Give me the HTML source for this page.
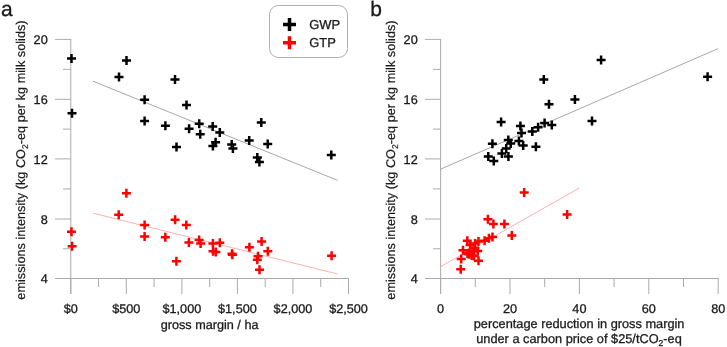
<!DOCTYPE html>
<html><head><meta charset="utf-8"><style>
html,body{margin:0;padding:0;background:#fff;}
svg{display:block;font-family:"Liberation Sans",sans-serif;will-change:transform;text-rendering:geometricPrecision;}
</style></head><body>
<svg width="727" height="347" viewBox="0 0 727 347">
<rect width="727" height="347" fill="#fff"/>
<g font-size="12.67" fill="#1a1a1a" stroke="#1a1a1a" stroke-width="0.3">
<path d="M70.8 38.85V294M55 278.5H349.0M55 39.40H70.8M55 99.30H70.8M55 158.90H70.8M55 219.00H70.8M63 69.35H70.8M63 129.10H70.8M63 188.95H70.8M63 248.75H70.8M70.80 278.5V294M98.57 278.5V287M126.34 278.5V294M154.11 278.5V287M181.88 278.5V294M209.65 278.5V287M237.42 278.5V294M265.19 278.5V287M292.96 278.5V294M320.73 278.5V287M348.50 278.5V294" stroke="#aaaaaa" stroke-width="1.0" fill="none"/>
<text x="47.7" y="44.20" text-anchor="end">20</text>
<text x="47.7" y="104.10" text-anchor="end">16</text>
<text x="47.7" y="163.70" text-anchor="end">12</text>
<text x="47.7" y="223.80" text-anchor="end">8</text>
<text x="47.7" y="283.30" text-anchor="end">4</text>
<text x="70.80" y="313.1" text-anchor="middle">$0</text>
<text x="126.34" y="313.1" text-anchor="middle">$500</text>
<text x="181.88" y="313.1" text-anchor="middle">$1,000</text>
<text x="237.42" y="313.1" text-anchor="middle">$1,500</text>
<text x="292.96" y="313.1" text-anchor="middle">$2,000</text>
<text x="348.50" y="313.1" text-anchor="middle">$2,500</text>
<text transform="translate(24.7,160.05) rotate(-90)" text-anchor="middle" font-size="12.74" stroke-width="0.18">emissions intensity (kg CO<tspan font-size="8.5" dy="3">2</tspan><tspan dy="-3">-eq per kg milk solids)</tspan></text>
<path d="M440.6 38.85V294M425 278.5H718.7M425 39.40H440.6M425 99.30H440.6M425 158.90H440.6M425 219.00H440.6M433 69.35H440.6M433 129.10H440.6M433 188.95H440.6M433 248.75H440.6M440.60 278.5V294M475.30 278.5V287M510.00 278.5V294M544.70 278.5V287M579.40 278.5V294M614.10 278.5V287M648.80 278.5V294M683.50 278.5V287M718.20 278.5V294" stroke="#aaaaaa" stroke-width="1.0" fill="none"/>
<text x="417.7" y="44.20" text-anchor="end">20</text>
<text x="417.7" y="104.10" text-anchor="end">16</text>
<text x="417.7" y="163.70" text-anchor="end">12</text>
<text x="417.7" y="223.80" text-anchor="end">8</text>
<text x="417.7" y="283.30" text-anchor="end">4</text>
<text x="440.60" y="313.1" text-anchor="middle">0</text>
<text x="510.00" y="313.1" text-anchor="middle">20</text>
<text x="579.40" y="313.1" text-anchor="middle">40</text>
<text x="648.80" y="313.1" text-anchor="middle">60</text>
<text x="718.20" y="313.1" text-anchor="middle">80</text>
<text transform="translate(394.7,160.05) rotate(-90)" text-anchor="middle" font-size="12.74" stroke-width="0.18">emissions intensity (kg CO<tspan font-size="8.5" dy="3">2</tspan><tspan dy="-3">-eq per kg milk solids)</tspan></text>
<text x="209.6" y="328.9" text-anchor="middle">gross margin / ha</text>
<text x="579.1" y="328.1" text-anchor="middle" font-size="12.78">percentage reduction in gross margin</text>
<text x="579.0" y="342.5" text-anchor="middle" font-size="12.78">under a carbon price of $25/tCO<tspan font-size="8.5" dy="3">2</tspan><tspan dy="-3">-eq</tspan></text>
<text x="309.2" y="29.3" font-size="12.95">GWP</text>
<text x="309.2" y="47.4" font-size="12.95">GTP</text>
</g>
<text x="1" y="16.2" font-size="21" fill="#1a1a1a" stroke="#1a1a1a" stroke-width="0.3">a</text>
<text x="370.3" y="16.2" font-size="21" fill="#1a1a1a" stroke="#1a1a1a" stroke-width="0.3">b</text>
<rect x="269.5" y="5.5" width="78" height="52" rx="9" fill="none" stroke="#b0b0b0" stroke-width="1"/>
<path d="M283 24.5h13M289.5 18v13" stroke="#000" stroke-width="3.5"/>
<path d="M283 42.7h13M289.5 36.2v13" stroke="#f00" stroke-width="3.5"/>
<line x1="93" y1="81.2" x2="337.7" y2="180.4" stroke="#909090" stroke-width="0.8"/>
<line x1="93.1" y1="213.2" x2="337.6" y2="274" stroke="#ff9494" stroke-width="0.75"/>
<line x1="440.5" y1="169.2" x2="717.9" y2="48.7" stroke="#909090" stroke-width="0.8"/>
<line x1="440.5" y1="266.7" x2="579.2" y2="188.1" stroke="#ff9494" stroke-width="0.75"/>
<path d="M67.00 58.50h9.0M71.50 54.00v9.0M67.50 113.30h9.0M72.00 108.80v9.0M114.50 77.00h9.0M119.00 72.50v9.0M122.00 60.50h9.0M126.50 56.00v9.0M140.10 99.70h9.0M144.60 95.20v9.0M140.10 121.10h9.0M144.60 116.60v9.0M160.90 125.70h9.0M165.40 121.20v9.0M170.50 79.50h9.0M175.00 75.00v9.0M172.00 146.90h9.0M176.50 142.40v9.0M182.00 105.00h9.0M186.50 100.50v9.0M184.60 128.70h9.0M189.10 124.20v9.0M194.70 123.70h9.0M199.20 119.20v9.0M195.70 134.20h9.0M200.20 129.70v9.0M208.20 126.50h9.0M212.70 122.00v9.0M215.30 132.50h9.0M219.80 128.00v9.0M211.10 142.30h9.0M215.60 137.80v9.0M208.40 145.90h9.0M212.90 141.40v9.0M227.20 144.40h9.0M231.70 139.90v9.0M228.40 148.40h9.0M232.90 143.90v9.0M244.70 140.60h9.0M249.20 136.10v9.0M256.80 122.60h9.0M261.30 118.10v9.0M263.20 144.10h9.0M267.70 139.60v9.0M252.80 157.60h9.0M257.30 153.10v9.0M254.90 162.00h9.0M259.40 157.50v9.0M326.80 155.00h9.0M331.30 150.50v9.0" stroke="#000" stroke-width="2.5" fill="none"/>
<path d="M67.00 231.85h9.0M71.50 227.35v9.0M67.60 246.15h9.0M72.10 241.65v9.0M121.90 193.35h9.0M126.40 188.85v9.0M114.20 214.85h9.0M118.70 210.35v9.0M140.10 224.95h9.0M144.60 220.45v9.0M140.10 236.55h9.0M144.60 232.05v9.0M160.80 237.35h9.0M165.30 232.85v9.0M170.60 219.75h9.0M175.10 215.25v9.0M181.80 224.95h9.0M186.30 220.45v9.0M184.40 242.55h9.0M188.90 238.05v9.0M171.90 261.15h9.0M176.40 256.65v9.0M194.60 239.95h9.0M199.10 235.45v9.0M196.10 243.45h9.0M200.60 238.95v9.0M208.40 243.55h9.0M212.90 239.05v9.0M215.30 242.75h9.0M219.80 238.25v9.0M208.50 251.15h9.0M213.00 246.65v9.0M211.30 251.95h9.0M215.80 247.45v9.0M227.50 253.85h9.0M232.00 249.35v9.0M227.90 254.85h9.0M232.40 250.35v9.0M244.90 247.25h9.0M249.40 242.75v9.0M257.10 241.45h9.0M261.60 236.95v9.0M263.30 251.25h9.0M267.80 246.75v9.0M253.50 256.25h9.0M258.00 251.75v9.0M252.80 259.85h9.0M257.30 255.35v9.0M255.00 269.65h9.0M259.50 265.15v9.0M327.10 255.85h9.0M331.60 251.35v9.0" stroke="#f00" stroke-width="2.5" fill="none"/>
<path d="M596.60 59.90h9.0M601.10 55.40v9.0M703.10 76.70h9.0M707.60 72.20v9.0M539.30 79.40h9.0M543.80 74.90v9.0M570.40 99.60h9.0M574.90 95.10v9.0M544.50 104.20h9.0M549.00 99.70v9.0M587.50 121.10h9.0M592.00 116.60v9.0M540.10 123.00h9.0M544.60 118.50v9.0M547.30 125.10h9.0M551.80 120.60v9.0M496.60 122.10h9.0M501.10 117.60v9.0M515.90 125.90h9.0M520.40 121.40v9.0M533.60 127.30h9.0M538.10 122.80v9.0M527.80 131.60h9.0M532.30 127.10v9.0M517.00 133.10h9.0M521.50 128.60v9.0M503.80 139.90h9.0M508.30 135.40v9.0M514.40 141.10h9.0M518.90 136.60v9.0M487.90 143.70h9.0M492.40 139.20v9.0M506.20 143.50h9.0M510.70 139.00v9.0M518.70 145.40h9.0M523.20 140.90v9.0M531.40 146.70h9.0M535.90 142.20v9.0M501.70 148.50h9.0M506.20 144.00v9.0M497.40 153.60h9.0M501.90 149.10v9.0M483.80 156.60h9.0M488.30 152.10v9.0M503.90 156.50h9.0M508.40 152.00v9.0M489.30 161.00h9.0M493.80 156.50v9.0" stroke="#000" stroke-width="2.5" fill="none"/>
<path d="M519.70 192.60h9.0M524.20 188.10v9.0M562.60 214.40h9.0M567.10 209.90v9.0M483.40 219.20h9.0M487.90 214.70v9.0M488.90 224.10h9.0M493.40 219.60v9.0M499.90 224.00h9.0M504.40 219.50v9.0M507.30 235.50h9.0M511.80 231.00v9.0M488.00 237.00h9.0M492.50 232.50v9.0M484.40 238.20h9.0M488.90 233.70v9.0M480.10 240.80h9.0M484.60 236.30v9.0M474.00 241.60h9.0M478.50 237.10v9.0M470.60 243.40h9.0M475.10 238.90v9.0M462.80 240.80h9.0M467.30 236.30v9.0M458.50 250.30h9.0M463.00 245.80v9.0M464.50 252.90h9.0M469.00 248.40v9.0M467.10 255.50h9.0M471.60 251.00v9.0M473.20 251.10h9.0M477.70 246.60v9.0M456.70 258.90h9.0M461.20 254.40v9.0M456.20 269.30h9.0M460.70 264.80v9.0M474.00 260.70h9.0M478.50 256.20v9.0M465.60 245.10h9.0M470.10 240.60v9.0M470.40 248.20h9.0M474.90 243.70v9.0M464.30 254.20h9.0M468.80 249.70v9.0M463.00 253.50h9.0M467.50 249.00v9.0M468.50 251.00h9.0M473.00 246.50v9.0M469.50 256.00h9.0M474.00 251.50v9.0" stroke="#f00" stroke-width="2.5" fill="none"/>
</svg>
</body></html>
